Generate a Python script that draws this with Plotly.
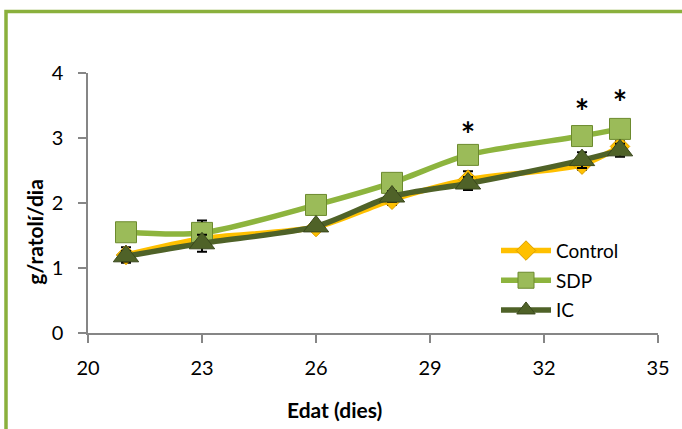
import plotly.graph_objects as go

# Age (days) and daily weight gain per pup
edat = [21, 23, 26, 28, 30, 33, 34]
control = [1.20, 1.45, 1.63, 2.05, 2.36, 2.59, 2.87]
sdp = [1.55, 1.54, 1.97, 2.31, 2.74, 3.03, 3.14]
ic = [1.18, 1.38, 1.64, 2.10, 2.30, 2.66, 2.81]

control_err = [0.12, 0.08, 0.06, 0.08, 0.13, 0.08, 0.08]
sdp_err = [0.04, 0.19, 0.04, 0.06, 0.08, 0.08, 0.06]
ic_err = [0.08, 0.13, 0.06, 0.08, 0.10, 0.12, 0.10]

# Significance marks (age, height)
sig_x = [30, 33, 34]
sig_y = [3.21, 3.56, 3.70]

x_ticks = [20, 23, 26, 29, 32, 35]
y_ticks = [0, 1, 2, 3, 4]

FONT = "Lato"
W, H = 682, 429
L, R, T, B = 88, 24, 73, 95.5
PW, PH = W - L - R, H - T - B


def px_x(p):
    return (p - L) / PW


def px_y(p):
    return (H - B - p) / PH


series = [
    ("Control", control, control_err, "#FFC000", "diamond", 15, "#D89E00"),
    ("SDP", sdp, sdp_err, "#8DB43E", "square", 21, "#6C8A2E"),
    ("IC", ic, ic_err, "#4F6228", "triangle-up", 22, "#3A481D"),
]

fig = go.Figure()
for name, vals, err, col, sym, size, edge in series:
    fig.add_trace(go.Scatter(
        x=edat, y=vals, name=name, mode="lines+markers",
        line=dict(color=col, width=5.5, shape="spline", smoothing=0.8),
        marker=dict(symbol=sym, size=size,
                    color="#9BBB59" if name == "SDP" else col,
                    line=dict(color=edge, width=1)),
        error_y=dict(type="data", array=err, color="black",
                     thickness=2, width=5),
        legendgroup=name,
    ))

# Asterisks are drawn slightly below the mark height because the glyph
# sits in the upper part of its text box.
fig.add_trace(go.Scatter(
    x=sig_x, y=[v - 0.22 for v in sig_y], mode="text",
    text=["*"] * len(sig_x),
    textfont=dict(family=FONT, size=34, color="black", weight="bold"),
    textposition="middle center", showlegend=False, hoverinfo="skip",
))

axis_common = dict(showgrid=False, zeroline=False, showline=True,
                   linecolor="#868686", linewidth=1.5, ticks="outside",
                   ticklen=8, tickwidth=1.5, tickcolor="#868686",
                   tickfont=dict(family=FONT, size=20, color="black"))

fig.update_xaxes(range=[20, 35], tickvals=x_ticks, ticklabelstandoff=8,
                 **axis_common)
fig.update_yaxes(range=[0, 4], tickvals=y_ticks, ticklabelstandoff=11,
                 **axis_common)

# Axis titles
fig.add_annotation(text="<b>Edat (dies)</b>", xref="paper", yref="paper",
                   x=px_x(334), y=px_y(410), xanchor="center",
                   yanchor="middle", showarrow=False,
                   font=dict(family=FONT, size=21, color="black"))
fig.add_annotation(text="<b>g/ratolí/dia</b>", xref="paper", yref="paper",
                   x=px_x(35), y=px_y(232), xanchor="center",
                   yanchor="middle", showarrow=False, textangle=-90,
                   font=dict(family=FONT, size=21, color="black"))

# Green chart frame
fig.add_shape(type="rect", xref="paper", yref="paper",
              x0=px_x(6), x1=px_x(W + 20), y0=px_y(H + 20), y1=px_y(11.5),
              line=dict(color="#8AB03C", width=3.5), layer="below")

fig.update_layout(
    width=W, height=H,
    margin=dict(l=L, r=R, t=T, b=B),
    paper_bgcolor="white", plot_bgcolor="white",
    legend=dict(x=px_x(496), y=px_y(232), xanchor="left", yanchor="top",
                font=dict(family=FONT, size=19, color="black"),
                bgcolor="rgba(0,0,0,0)", tracegroupgap=2, itemwidth=50),
)

fig.write_html("out.html")
